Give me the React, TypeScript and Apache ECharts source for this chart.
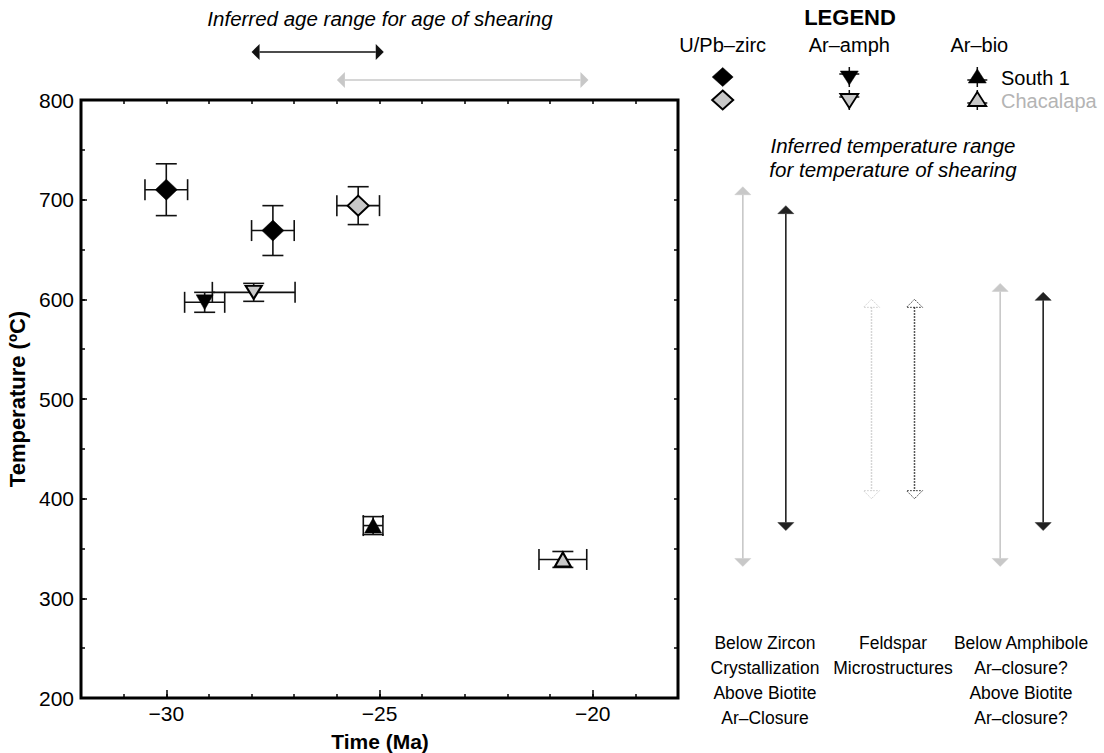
import React, { useEffect, useRef } from 'react';
import * as echarts from 'echarts';

const FONT = '"Liberation Sans", Arial, Helvetica, sans-serif';
const GRAY = '#c8c8c8';
const DARK = '#111111';

// ---- Data: ages (Ma), temperatures (°C) and their errors ----
const zircSouthAge = [-30.0, -27.5];
const zircSouthAgeErr = [0.5, 0.5];
const zircSouthTemp = [710, 669];
const zircSouthTempErr = [26, 25];

const zircChacAge = [-25.5];
const zircChacAgeErr = [0.5];
const zircChacTemp = [694];
const zircChacTempErr = [19];

const amphSouthAge = [-29.1];
const amphSouthAgeErr = [0.47];
const amphSouthTemp = [597];
const amphSouthTempErr = [10];

const amphChacAge = [-27.95];
const amphChacAgeErr = [0.97];
const amphChacTemp = [607];
const amphChacTempErr = [9];

const bioSouthAge = [-25.15];
const bioSouthAgeErr = [0.23];
const bioSouthTemp = [373];
const bioSouthTempErr = [9];

const bioChacAge = [-20.7];
const bioChacAgeErr = [0.56];
const bioChacTemp = [339];
const bioChacTempErr = [8];

// Inferred age range for age of shearing (Ma)
const ageRangeSouth = [-28.0, -24.9];
const ageRangeChac = [-26.0, -20.1];

// Inferred temperature ranges (°C) per group
const tRangeGroups = [0, 1, 2];
const tRangeLabels = [
  ['Below Zircon', 'Crystallization', 'Above Biotite', 'Ar\u2013Closure'],
  ['Feldspar', 'Microstructures'],
  ['Below Amphibole', 'Ar\u2013closure?', 'Above Biotite', 'Ar\u2013closure?'],
];
const tRangeSouthHigh = [694, 600, 607];
const tRangeSouthLow = [368, 400, 368];
const tRangeChacHigh = [713, 600, 616];
const tRangeChacLow = [332, 400, 332];
const tRangeDotted = [0, 1, 0];

const xTickLabels = [-30, -25, -20];

const pts = (a: number[], t: number[]) => a.map((v, i) => [v, t[i]]);
const errs = (a: number[], ae: number[], t: number[], te: number[]) =>
  a.map((v, i) => [v, t[i], ae[i], te[i]]);

const fmtNum = (v: number) => (v < 0 ? '\u2212' + -v : String(v));

function errorRender(params: any, api: any) {
  const x = api.value(0);
  const y = api.value(1);
  const xe = api.value(2);
  const ye = api.value(3);
  const l = api.coord([x - xe, y]);
  const r = api.coord([x + xe, y]);
  const t = api.coord([x, y + ye]);
  const b = api.coord([x, y - ye]);
  const cap = 10.5;
  const st = { stroke: DARK, lineWidth: 1.6 };
  const ln = (x1: number, y1: number, x2: number, y2: number) => ({
    type: 'line',
    shape: { x1, y1, x2, y2 },
    style: st,
  });
  return {
    type: 'group',
    children: [
      ln(l[0], l[1], r[0], r[1]),
      ln(l[0], l[1] - cap, l[0], l[1] + cap),
      ln(r[0], r[1] - cap, r[0], r[1] + cap),
      ln(t[0], t[1], b[0], b[1]),
      ln(t[0] - cap, t[1], t[0] + cap, t[1]),
      ln(b[0] - cap, b[1], b[0] + cap, b[1]),
    ],
  };
}

function vArrowRender(offset: number, color: string) {
  return (params: any, api: any) => {
    const g = api.value(0);
    const lo = api.value(1);
    const hi = api.value(2);
    const dotted = api.value(3) === 1;
    const top = api.coord([g, hi]);
    const bot = api.coord([g, lo]);
    const x = top[0] + offset;
    const hl = 8;
    const hw = 8;
    const lineStyle: any = dotted
      ? { stroke: color, lineWidth: 1.5, lineDash: [1.5, 1.5] }
      : { stroke: color, lineWidth: 1.6 };
    const headStyle: any = dotted
      ? { fill: 'none', stroke: color, lineWidth: 1, lineDash: [1.5, 1.5] }
      : { fill: color, stroke: color, lineWidth: 0.5 };
    return {
      type: 'group',
      children: [
        { type: 'line', shape: { x1: x, y1: top[1] + hl, x2: x, y2: bot[1] - hl }, style: lineStyle },
        { type: 'polygon', shape: { points: [[x, top[1]], [x - hw, top[1] + hl], [x + hw, top[1] + hl]] }, style: headStyle },
        { type: 'polygon', shape: { points: [[x, bot[1]], [x - hw, bot[1] - hl], [x + hw, bot[1] - hl]] }, style: headStyle },
      ],
    };
  };
}

function hArrowRender(color: string) {
  return (params: any, api: any) => {
    const lo = api.value(0);
    const hi = api.value(1);
    const row = api.value(2);
    const a = api.coord([lo, row]);
    const b = api.coord([hi, row]);
    const hl = 8;
    const hw = 8;
    return {
      type: 'group',
      children: [
        { type: 'line', shape: { x1: a[0] + hl, y1: a[1], x2: b[0] - hl, y2: b[1] }, style: { stroke: color, lineWidth: 1.6 } },
        { type: 'polygon', shape: { points: [[a[0], a[1]], [a[0] + hl, a[1] - hw], [a[0] + hl, a[1] + hw]] }, style: { fill: color } },
        { type: 'polygon', shape: { points: [[b[0], b[1]], [b[0] - hl, b[1] - hw], [b[0] - hl, b[1] + hw]] }, style: { fill: color } },
      ],
    };
  };
}

function legendMarkers(): any[] {
  const els: any[] = [];
  const r1 = 77;
  const r2 = 100;
  const xs = [722.7, 849.3, 977.3];
  const line = (x1: number, y1: number, x2: number, y2: number, c: string) => ({
    type: 'line', shape: { x1, y1, x2, y2 }, style: { stroke: c, lineWidth: 1.5 },
  });
  const dia = (cx: number, cy: number, fill: string) => ({
    type: 'polygon',
    shape: { points: [[cx, cy - 9.5], [cx + 10.5, cy], [cx, cy + 9.5], [cx - 10.5, cy]] },
    style: { fill, stroke: '#000', lineWidth: fill === '#000' ? 0.5 : 2 },
  });
  els.push(dia(xs[0], r1, '#000'));
  els.push(dia(xs[0], r2, GRAY));
  const down = (cx: number, cy: number, fill: string) => [
    line(cx, cy - 10, cx, cy + 10, DARK),
    line(cx - 10, cy - 3, cx + 10, cy - 3, DARK),
    {
      type: 'polygon',
      shape: { points: [[cx - 9, cy - 6], [cx + 9, cy - 6], [cx, cy + 8]] },
      style: { fill, stroke: '#000', lineWidth: fill === '#000' ? 0.5 : 1.8 },
    },
  ];
  els.push(...down(xs[1], r1, '#000'));
  els.push(...down(xs[1], r2, GRAY));
  const up = (cx: number, cy: number, fill: string) => [
    line(cx, cy - 10, cx, cy + 10, DARK),
    line(cx - 10, cy + 3, cx + 10, cy + 3, DARK),
    {
      type: 'polygon',
      shape: { points: [[cx - 9, cy + 6], [cx + 9, cy + 6], [cx, cy - 8]] },
      style: { fill, stroke: '#000', lineWidth: fill === '#000' ? 0.5 : 1.8 },
    },
  ];
  els.push(...up(xs[2], r1, '#000'));
  els.push(...up(xs[2], r2, GRAY));
  return els;
}

function textEl(text: string, x: number, y: number, opts: any = {}) {
  return {
    type: 'text',
    x,
    y,
    style: {
      text,
      fill: opts.fill || '#000',
      font: `${opts.fontStyle || 'normal'} ${opts.fontWeight || 'normal'} ${opts.fontSize || 18}px ${FONT}`,
      textAlign: opts.align || 'center',
      textVerticalAlign: 'middle',
    },
  };
}

export default function App() {
  const ref = useRef<HTMLDivElement>(null);
  useEffect(() => {
    if (!ref.current) return;
    const chart = echarts.init(ref.current, undefined, { renderer: 'svg' });

    const groupX = [765, 893, 1021];
    const labelEls: any[] = [];
    tRangeLabels.forEach((lines, gi) => {
      lines.forEach((ln, li) => {
        labelEls.push(textEl(ln, groupX[gi], 643 + li * 25, { fontSize: 17.5 }));
      });
    });

    const option: any = {
      animation: false,
      backgroundColor: '#fff',
      grid: [
        { left: 81, top: 100, width: 597, height: 598, show: true, borderColor: '#000', borderWidth: 3, backgroundColor: 'transparent', outerBoundsMode: 'none', containLabel: false },
        { left: 700, top: 100, width: 386, height: 598, outerBoundsMode: 'none', containLabel: false },
        { left: 81, top: 52, width: 597, height: 28, outerBoundsMode: 'none', containLabel: false },
      ],
      xAxis: [
        {
          gridIndex: 0, type: 'value', min: -32, max: -18, interval: 1, position: 'bottom',
          axisLine: { show: false },
          axisTick: { inside: true, length: 4, lineStyle: { color: '#000', width: 1.5 } },
          axisLabel: {
            formatter: (v: number) => (xTickLabels.indexOf(v) >= 0 ? fmtNum(v) : ''),
            fontSize: 21, color: '#000', fontFamily: FONT, margin: 5,
          },
          splitLine: { show: false },
        },
        {
          gridIndex: 0, type: 'value', min: -32, max: -18, position: 'bottom',
          axisLine: { show: false },
          axisTick: { inside: true, length: 8, customValues: xTickLabels, lineStyle: { color: '#000', width: 1.5 } },
          axisLabel: { show: false },
          splitLine: { show: false },
        },
        {
          gridIndex: 0, type: 'value', min: -32, max: -18, interval: 1, position: 'top',
          axisLine: { show: false },
          axisTick: { inside: true, length: 4, lineStyle: { color: '#000', width: 1.5 } },
          axisLabel: { show: false },
          splitLine: { show: false },
        },
        { gridIndex: 1, type: 'value', min: -0.5, max: 2.5, show: false },
        { gridIndex: 2, type: 'value', min: -32, max: -18, show: false },
      ],
      yAxis: [
        {
          gridIndex: 0, type: 'value', min: 200, max: 800, interval: 100, position: 'left',
          axisLine: { show: false },
          axisTick: { inside: true, length: 6, lineStyle: { color: '#000', width: 1.5 } },
          axisLabel: { fontSize: 21, color: '#000', fontFamily: FONT, margin: 7, formatter: (v: number) => fmtNum(v) },
          splitLine: { show: false },
          name: 'Temperature (\u00baC)', nameLocation: 'middle', nameGap: 48,
          nameTextStyle: { fontSize: 22, fontWeight: 'bold', color: '#000', fontFamily: FONT },
        },
        {
          gridIndex: 0, type: 'value', min: 200, max: 800, interval: 50, position: 'left',
          axisLine: { show: false },
          axisTick: { inside: true, length: 4, lineStyle: { color: '#000', width: 1.5 } },
          axisLabel: { show: false },
          splitLine: { show: false },
        },
        {
          gridIndex: 0, type: 'value', min: 200, max: 800, interval: 50, position: 'right',
          axisLine: { show: false },
          axisTick: { inside: true, length: 4, lineStyle: { color: '#000', width: 1.5 } },
          axisLabel: { show: false },
          splitLine: { show: false },
        },
        { gridIndex: 1, type: 'value', min: 200, max: 800, show: false },
        { gridIndex: 2, type: 'value', min: 0, max: 1, show: false },
      ],
      series: [
        ...[
          errs(zircSouthAge, zircSouthAgeErr, zircSouthTemp, zircSouthTempErr),
          errs(zircChacAge, zircChacAgeErr, zircChacTemp, zircChacTempErr),
          errs(amphSouthAge, amphSouthAgeErr, amphSouthTemp, amphSouthTempErr),
          errs(amphChacAge, amphChacAgeErr, amphChacTemp, amphChacTempErr),
          errs(bioSouthAge, bioSouthAgeErr, bioSouthTemp, bioSouthTempErr),
          errs(bioChacAge, bioChacAgeErr, bioChacTemp, bioChacTempErr),
        ].map((d) => ({
          type: 'custom', xAxisIndex: 0, yAxisIndex: 0, renderItem: errorRender, data: d, z: 2, silent: true,
        })),
        {
          type: 'scatter', name: 'U/Pb-zirc South 1', xAxisIndex: 0, yAxisIndex: 0,
          data: pts(zircSouthAge, zircSouthTemp), symbol: 'diamond', symbolSize: [22, 21],
          itemStyle: { color: '#000', borderColor: '#000', borderWidth: 0.5, opacity: 1 }, z: 3,
        },
        {
          type: 'scatter', name: 'U/Pb-zirc Chacalapa', xAxisIndex: 0, yAxisIndex: 0,
          data: pts(zircChacAge, zircChacTemp), symbol: 'diamond', symbolSize: [21, 20],
          itemStyle: { color: GRAY, borderColor: '#000', borderWidth: 2, opacity: 1 }, z: 3,
        },
        {
          type: 'scatter', name: 'Ar-amph South 1', xAxisIndex: 0, yAxisIndex: 0,
          data: pts(amphSouthAge, amphSouthTemp), symbol: 'triangle', symbolRotate: 180, symbolSize: [17, 15],
          itemStyle: { color: '#000', borderColor: '#000', borderWidth: 0.5, opacity: 1 }, z: 3,
        },
        {
          type: 'scatter', name: 'Ar-amph Chacalapa', xAxisIndex: 0, yAxisIndex: 0,
          data: pts(amphChacAge, amphChacTemp), symbol: 'triangle', symbolRotate: 180, symbolSize: [16, 13],
          itemStyle: { color: GRAY, borderColor: '#000', borderWidth: 2, opacity: 1 }, z: 3,
        },
        {
          type: 'scatter', name: 'Ar-bio South 1', xAxisIndex: 0, yAxisIndex: 0,
          data: pts(bioSouthAge, bioSouthTemp), symbol: 'triangle', symbolSize: [17, 15],
          itemStyle: { color: '#000', borderColor: '#000', borderWidth: 0.5, opacity: 1 }, z: 3,
        },
        {
          type: 'scatter', name: 'Ar-bio Chacalapa', xAxisIndex: 0, yAxisIndex: 0,
          data: pts(bioChacAge, bioChacTemp), symbol: 'triangle', symbolSize: [16, 14],
          itemStyle: { color: GRAY, borderColor: '#000', borderWidth: 2, opacity: 1 }, z: 3,
        },
        {
          type: 'custom', xAxisIndex: 3, yAxisIndex: 3, silent: true,
          renderItem: vArrowRender(-21.5, GRAY),
          data: tRangeGroups.map((g, i) => [g, tRangeChacLow[i], tRangeChacHigh[i], tRangeDotted[i]]),
        },
        {
          type: 'custom', xAxisIndex: 3, yAxisIndex: 3, silent: true,
          renderItem: vArrowRender(21.5, '#222'),
          data: tRangeGroups.map((g, i) => [g, tRangeSouthLow[i], tRangeSouthHigh[i], tRangeDotted[i]]),
        },
        {
          type: 'custom', xAxisIndex: 4, yAxisIndex: 4, silent: true, clip: false,
          renderItem: hArrowRender('#111'),
          data: [[ageRangeSouth[0], ageRangeSouth[1], 1]],
        },
        {
          type: 'custom', xAxisIndex: 4, yAxisIndex: 4, silent: true, clip: false,
          renderItem: hArrowRender(GRAY),
          data: [[ageRangeChac[0], ageRangeChac[1], 0]],
        },
      ],
      graphic: {
        elements: [
          textEl('Time (Ma)', 380, 741, { fontSize: 21, fontWeight: 'bold' }),
          textEl('Inferred age range for age of shearing', 380, 18, { fontSize: 20.5, fontStyle: 'italic' }),
          textEl('LEGEND', 850, 17, { fontSize: 22, fontWeight: 'bold' }),
          textEl('U/Pb\u2013zirc', 722.7, 45, { fontSize: 20 }),
          textEl('Ar\u2013amph', 849.3, 45, { fontSize: 20 }),
          textEl('Ar\u2013bio', 979.3, 45, { fontSize: 20 }),
          textEl('South 1', 1001, 78, { fontSize: 20, align: 'left' }),
          textEl('Chacalapa', 1001, 101, { fontSize: 20, align: 'left', fill: '#b4b4b4' }),
          textEl('Inferred temperature range', 893, 145, { fontSize: 20.5, fontStyle: 'italic' }),
          textEl('for temperature of shearing', 893, 169, { fontSize: 20.5, fontStyle: 'italic' }),
          ...legendMarkers(),
          ...labelEls,
        ],
      },
    };
    chart.setOption(option);
    return () => chart.dispose();
  }, []);
  return <div ref={ref} style={{ position: 'absolute', left: 0, top: 0, width: 1104, height: 753, background: '#fff' }} />;
}
